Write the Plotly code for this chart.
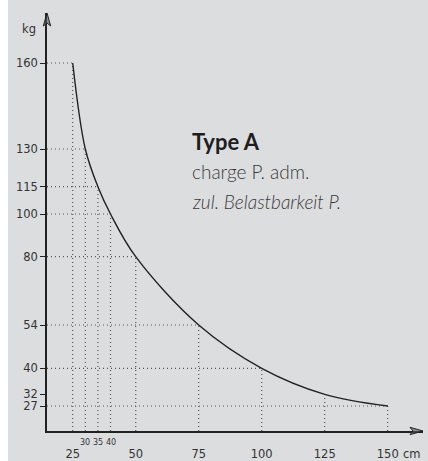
import numpy as np
import plotly.graph_objects as go

# ---------------- data ----------------
span_cm = [25, 30, 35, 40, 50, 75, 100, 125, 150]
load_kg = [160, 130, 115, 100, 80, 54, 40, 32, 27]

x_ticks_major = [25, 50, 75, 100, 125, 150]
x_ticks_minor = [30, 35, 40]
y_ticks = [27, 32, 40, 54, 80, 100, 115, 130, 160]
h_guide_kg = [160, 130, 115, 100, 80, 54, 40, 27]   # levels with a dotted line

# The printed kg axis is not linear: axis height of every labelled value
kg_axis_height = [25, 36.7, 62.7, 106, 174.3, 217, 244.3, 282, 368]


def kg_scale(v):
    return np.interp(v, y_ticks, kg_axis_height)


X_MIN, X_MAX = 14.8, 164.0
Y_MIN, Y_MAX = 0, 418

INK = "#222222"
GUIDE = "#555555"
BG = "#dcdddf"
TICKFONT = dict(family="DejaVu Sans", size=11.5, color="#333333")

fig = go.Figure()

# dotted guide lines
gx, gy = [], []
for x, y in zip(span_cm, load_kg):
    gx += [x, x, None]
    gy += [Y_MIN, float(kg_scale(y)), None]
    if y in h_guide_kg:
        gx += [X_MIN, x, None]
        gy += [float(kg_scale(y)), float(kg_scale(y)), None]
fig.add_trace(go.Scatter(x=gx, y=gy, mode="lines", hoverinfo="skip",
                         line=dict(color=GUIDE, width=1.2, dash="1px,3px")))

# load curve
fig.add_trace(go.Scatter(x=span_cm, y=kg_scale(load_kg), mode="lines",
                         line=dict(color=INK, width=1.4, shape="spline", smoothing=1.0)))

annotations = []
for v in x_ticks_minor:
    annotations.append(dict(x=v, xref="x", y=0, yref="paper", yanchor="top",
                            yshift=-5, text=str(v), showarrow=False,
                            font=dict(family="DejaVu Sans", size=8, color="#333333")))
annotations += [
    dict(x=1, xref="paper", xanchor="right", y=0, yref="paper", yanchor="top",
         yshift=-14, text="cm", showarrow=False, font=TICKFONT),
    dict(x=0, xref="paper", xanchor="right", xshift=-9, y=0.962, yref="paper",
         yanchor="middle", text="kg", showarrow=False, font=TICKFONT),
    dict(x=0.38, xref="paper", xanchor="left", y=0.655, yref="paper", yanchor="bottom",
         text="<b>Type A</b>", showarrow=False,
         font=dict(family="Lato", size=22, color="#1e1e1e")),
    dict(x=0.38, xref="paper", xanchor="left", y=0.589, yref="paper", yanchor="bottom",
         text="charge P. adm.", showarrow=False,
         font=dict(family="Lato", size=19, color="#3a3a3a", weight=300)),
    dict(x=0.38, xref="paper", xanchor="left", y=0.517, yref="paper", yanchor="bottom",
         text="<i>zul. Belastbarkeit P.</i>", showarrow=False,
         font=dict(family="Lato", size=19, color="#3a3a3a", weight=300)),
]

shapes = [
    # white strip on the left edge
    dict(type="rect", xref="paper", yref="paper", x0=-47 / 376, x1=-39 / 376,
         y0=-0.1, y1=1.1, fillcolor="white", line=dict(width=0), layer="below"),
    # y axis arrow head
    dict(type="path", xref="paper", yref="paper", xsizemode="pixel", ysizemode="pixel",
         xanchor=0, yanchor=1, path="M -3.7 -13 L 0 0 L 3.7 -13 L 0 -10 Z",
         line=dict(color=INK, width=1), fillcolor="rgba(90,90,90,0.6)"),
    # x axis arrow head
    dict(type="path", xref="paper", yref="paper", xsizemode="pixel", ysizemode="pixel",
         xanchor=1, yanchor=0, path="M -13 -3.7 L 0 0 L -13 3.7 L -10 0 Z",
         line=dict(color=INK, width=1), fillcolor="rgba(90,90,90,0.6)"),
]

fig.update_layout(
    width=428, height=461,
    margin=dict(l=47, r=5, t=13, b=30, autoexpand=False),
    paper_bgcolor=BG, plot_bgcolor=BG,
    showlegend=False,
    annotations=annotations,
    shapes=shapes,
    xaxis=dict(range=[X_MIN, X_MAX], tickvals=x_ticks_major,
               ticktext=[str(v) for v in x_ticks_major], ticks="",
               ticklabelstandoff=11, showline=True, linecolor=INK, linewidth=1.5,
               showgrid=False, zeroline=False, tickfont=TICKFONT, fixedrange=True,
               automargin=False),
    yaxis=dict(range=[Y_MIN, Y_MAX], tickvals=list(kg_scale(y_ticks)),
               ticktext=[str(v) for v in y_ticks], ticks="outside", ticklen=5,
               tickcolor=INK, tickwidth=1.2, showline=True, linecolor=INK,
               linewidth=1.5, showgrid=False, zeroline=False, tickfont=TICKFONT,
               fixedrange=True, automargin=False),
)

fig.write_html("out.html", post_script="document.body.style.margin='0';",
               config={"displayModeBar": False})
